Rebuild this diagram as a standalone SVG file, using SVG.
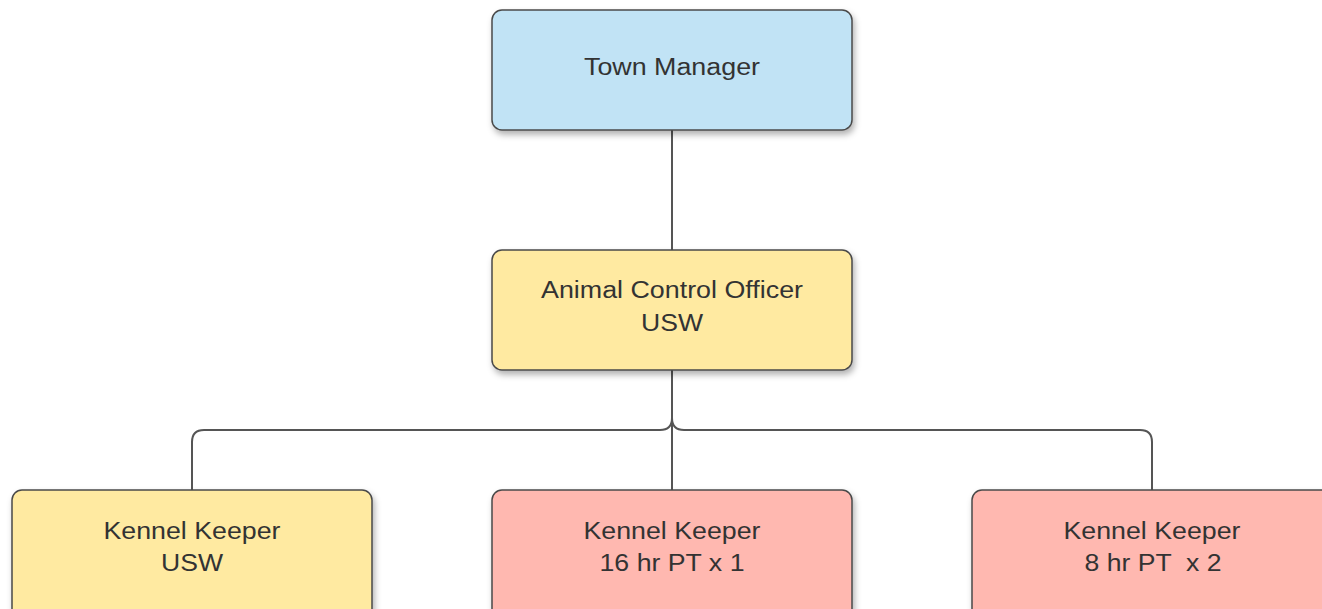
<svg xmlns="http://www.w3.org/2000/svg" width="1322" height="609" viewBox="0 0 1322 609">
<style>
.box{stroke:#4a4a4a;stroke-width:1.5;filter:url(#sh)}
.blue{fill:#c1e3f5}
.yellow{fill:#ffeaa1}
.red{fill:#ffb8b0}
.t{font-family:"Liberation Sans",Arial,sans-serif;font-size:23px;fill:#333;text-anchor:middle}
.c{fill:none;stroke:#555;stroke-width:2}
</style>
<defs>
<filter id="sh" x="-10%" y="-10%" width="125%" height="130%">
<feDropShadow dx="2" dy="4" stdDeviation="3" flood-color="#000" flood-opacity="0.3"/>
</filter>
</defs>
<rect width="1322" height="609" fill="#fff"/>
<g id="connectors">
<path class="c" d="M672 130 V250"/>
<path class="c" d="M672 370 V490"/>
<path class="c" d="M672 370 V418 Q672 430 660 430 H204 Q192 430 192 442 V490"/>
<path class="c" d="M672 370 V418 Q672 430 684 430 H1140 Q1152 430 1152 442 V490"/>
</g>
<g id="town-manager">
<rect class="box blue" x="492" y="10" width="360" height="120" rx="10"/>
<text class="t" x="672" y="75" textLength="176" lengthAdjust="spacingAndGlyphs">Town Manager</text>
</g>
<g id="animal-control-officer">
<rect class="box yellow" x="492" y="250" width="360" height="120" rx="10"/>
<text class="t" x="672" y="298" textLength="262" lengthAdjust="spacingAndGlyphs">Animal Control Officer</text>
<text class="t" x="672" y="331" textLength="62" lengthAdjust="spacingAndGlyphs">USW</text>
</g>
<g id="kennel-keeper-usw">
<rect class="box yellow" x="12" y="490" width="360" height="130" rx="10"/>
<text class="t" x="192" y="539" textLength="177" lengthAdjust="spacingAndGlyphs">Kennel Keeper</text>
<text class="t" x="192" y="571" textLength="62" lengthAdjust="spacingAndGlyphs">USW</text>
</g>
<g id="kennel-keeper-16">
<rect class="box red" x="492" y="490" width="360" height="130" rx="10"/>
<text class="t" x="672" y="539" textLength="177" lengthAdjust="spacingAndGlyphs">Kennel Keeper</text>
<text class="t" x="672" y="571" textLength="145" lengthAdjust="spacingAndGlyphs">16 hr PT x 1</text>
</g>
<g id="kennel-keeper-8">
<rect class="box red" x="972" y="490" width="360" height="130" rx="10"/>
<text class="t" x="1152" y="539" textLength="177" lengthAdjust="spacingAndGlyphs">Kennel Keeper</text>
<text class="t" x="1153" y="571" textLength="137" lengthAdjust="spacingAndGlyphs" xml:space="preserve">8 hr PT  x 2</text>
</g>
</svg>
